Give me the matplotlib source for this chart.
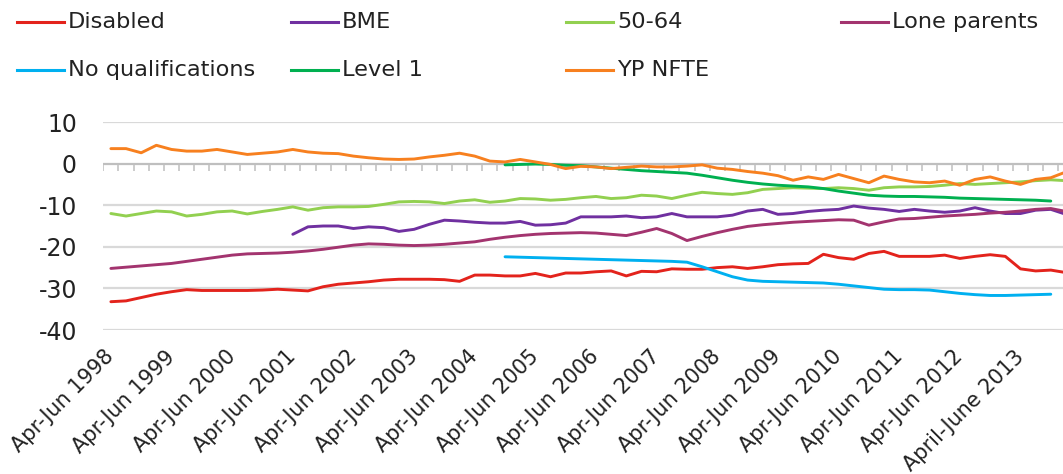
import numpy as np
import matplotlib
matplotlib.use("Agg")
import matplotlib.pyplot as plt
from matplotlib.lines import Line2D

NaN = np.nan

# Quarterly categories, Apr-Jun 1998 onwards (64 quarters)
quarter_names = ["Apr-Jun", "Jul-Sep", "Oct-Dec", "Jan-Mar"]
n_quarters = 64
categories = [f"{quarter_names[i % 4]} {1998 + (i + 1) // 4}" for i in range(n_quarters)]

tick_labels = ["Apr-Jun 1998", "Apr-Jun 1999", "Apr-Jun 2000", "Apr-Jun 2001",
               "Apr-Jun 2002", "Apr-Jun 2003", "Apr-Jun 2004", "Apr-Jun 2005",
               "Apr-Jun 2006", "Apr-Jun 2007", "Apr-Jun 2008", "Apr-Jun 2009",
               "Apr-Jun 2010", "Apr-Jun 2011", "Apr-Jun 2012", "April-June 2013"]

disabled = [-33.2, -33.0, -32.2, -31.4, -30.8, -30.3, -30.5, -30.5, -30.5, -30.5,
            -30.4, -30.2, -30.4, -30.6, -29.6, -29.0, -28.7, -28.4, -28.0, -27.8,
            -27.8, -27.8, -27.9, -28.3, -26.8, -26.8, -27.0, -27.0, -26.4, -27.2,
            -26.3, -26.3, -26.0, -25.8, -27.0, -25.9, -26.0, -25.3, -25.4, -25.4,
            -25.0, -24.8, -25.2, -24.8, -24.3, -24.1, -24.0, -21.8, -22.6, -23.0,
            -21.6, -21.1, -22.3, -22.3, -22.3, -22.0, -22.8, -22.3, -21.9, -22.3,
            -25.3, -25.8, -25.6, -26.2]

bme = [NaN] * 12 + [
    -17.0, -15.2, -15.0, -15.0, -15.6, -15.2, -15.4, -16.3, -15.8, -14.6,
    -13.6, -13.8, -14.1, -14.3, -14.3, -13.9, -14.8, -14.7, -14.3, -12.8,
    -12.8, -12.8, -12.6, -13.0, -12.8, -12.0, -12.8, -12.8, -12.8, -12.4,
    -11.4, -11.0, -12.2, -12.0, -11.5, -11.2, -11.0, -10.2, -10.7, -11.0,
    -11.5, -11.0, -11.4, -11.7, -11.4, -10.6, -11.4, -12.0, -12.0, -11.2,
    -11.0, -12.2]

age_50_64 = [-12.0, -12.6, -12.0, -11.4, -11.6, -12.6, -12.2, -11.6, -11.4, -12.1,
             -11.5, -11.0, -10.4, -11.2, -10.6, -10.4, -10.4, -10.3, -9.8, -9.2,
             -9.1, -9.2, -9.6, -9.0, -8.7, -9.3, -9.0, -8.4, -8.5, -8.8,
             -8.6, -8.2, -7.9, -8.4, -8.2, -7.6, -7.8, -8.4, -7.6, -6.9,
             -7.2, -7.4, -7.0, -6.2, -6.0, -5.8, -5.9, -6.0, -5.8, -6.0,
             -6.4, -5.8, -5.6, -5.6, -5.5, -5.2, -4.8, -5.0, -4.8, -4.6,
             -4.4, -4.1, -3.9, -4.1]

lone_parents = [-25.2, -24.9, -24.6, -24.3, -24.0, -23.5, -23.0, -22.5, -22.0, -21.7,
                -21.6, -21.5, -21.3, -21.0, -20.6, -20.1, -19.6, -19.3, -19.4, -19.6,
                -19.7, -19.6, -19.4, -19.1, -18.8, -18.2, -17.7, -17.3, -17.0, -16.8,
                -16.7, -16.6, -16.7, -17.0, -17.3, -16.5, -15.6, -16.8, -18.5, -17.5,
                -16.6, -15.8, -15.1, -14.7, -14.4, -14.1, -13.9, -13.7, -13.5, -13.6,
                -14.8, -14.0, -13.3, -13.2, -12.9, -12.6, -12.4, -12.2, -11.9, -11.7,
                -11.4, -11.0, -10.8, -11.5]

no_qualifications = [NaN] * 26 + [
    -22.4, -22.5, -22.6, -22.7, -22.8, -22.9, -23.0, -23.1, -23.2, -23.3,
    -23.4, -23.5, -23.7, -24.8, -26.0, -27.2, -28.0, -28.3, -28.4, -28.5,
    -28.6, -28.7, -29.0, -29.4, -29.8, -30.2, -30.3, -30.3, -30.4, -30.8,
    -31.2, -31.5, -31.7, -31.7, -31.6, -31.5, -31.4, NaN]

level_1 = [NaN] * 26 + [
    -0.3, -0.2, -0.1, -0.2, -0.4, -0.5, -0.8, -1.1, -1.4, -1.7,
    -1.9, -2.1, -2.3, -2.8, -3.4, -4.0, -4.5, -4.9, -5.2, -5.4,
    -5.6, -6.0, -6.6, -7.1, -7.6, -7.8, -7.9, -7.9, -8.0, -8.1,
    -8.3, -8.4, -8.5, -8.6, -8.7, -8.8, -9.0, NaN]

yp_nfte = [3.6, 3.6, 2.6, 4.4, 3.4, 3.0, 3.0, 3.4, 2.8, 2.2,
           2.5, 2.8, 3.4, 2.8, 2.5, 2.4, 1.8, 1.4, 1.1, 1.0,
           1.1, 1.6, 2.0, 2.5, 1.8, 0.6, 0.4, 1.0, 0.4, -0.2,
           -1.2, -0.65, -0.8, -1.2, -0.9, -0.6, -0.8, -0.8, -0.6, -0.3,
           -1.1, -1.4, -1.9, -2.3, -2.9, -4.0, -3.2, -3.8, -2.6, -3.6,
           -4.6, -3.0, -3.8, -4.4, -4.6, -4.2, -5.2, -3.8, -3.2, -4.2,
           -5.0, -3.8, -3.4, -2.0]

series_names = ["Disabled", "BME", "50-64", "Lone parents",
                "No qualifications", "Level 1", "YP NFTE"]
series_values = [disabled, bme, age_50_64, lone_parents,
                 no_qualifications, level_1, yp_nfte]
series_colors = ["#e3231c", "#7030a0", "#92d050", "#a3346f",
                 "#00b0f0", "#00b050", "#f7801f"]

W, H = 1063, 474
fig = plt.figure(figsize=(W / 100, H / 100), dpi=100)
fig.patch.set_facecolor("white")

# plot area in pixel terms
left_px, right_px, top_px, bottom_px = 103.3, 1063, 122, 330
ax = fig.add_axes([left_px / W, 1 - bottom_px / H,
                   (right_px - left_px) / W, (bottom_px - top_px) / H])

x = np.arange(n_quarters)
for name, vals, col in zip(series_names, series_values, series_colors):
    ax.plot(x, np.array(vals, dtype=float), color=col, lw=2.1,
            solid_joinstyle="round", solid_capstyle="round", zorder=3)

step = 15.16
ax.set_xlim(-0.5, -0.5 + (right_px - left_px) / step)
ax.set_ylim(-40, 10)

# horizontal gridlines
for yv in [10, -10, -20, -30, -40]:
    ax.axhline(yv, color="#d9d9d9", lw=1.6, zorder=1)

# category axis through zero, with short tick marks at category boundaries
ax.axhline(0, color="#bfbfbf", lw=1.6, zorder=2)
tick_len = 7 / ((bottom_px - top_px) / 50)
ax.vlines(np.arange(n_quarters + 1) - 0.5, -tick_len, 0,
          colors="#bfbfbf", lw=1.1, zorder=2)

for s in ax.spines.values():
    s.set_visible(False)

ax.set_yticks([10, 0, -10, -20, -30, -40])
ax.set_yticklabels(["10", "0", "-10", "-20", "-30", "-40"])
ax.tick_params(axis="y", length=0, pad=19, labelsize=17, labelcolor="#222222")

ax.set_xticks(np.arange(0, 61, 4))
ax.set_xticklabels(tick_labels, rotation=45, ha="right",
                   rotation_mode="anchor", va="center")
ax.tick_params(axis="x", length=0, pad=17, labelsize=15, labelcolor="#222222")

# legend laid out in a 4-column grid
col_x = [17, 291, 566, 841]
row_y = [22, 70]
for k, (name, col) in enumerate(zip(series_names, series_colors)):
    r, c = divmod(k, 4)
    x0 = col_x[c]
    y0 = 1 - row_y[r] / H
    fig.add_artist(Line2D([x0 / W, (x0 + 47) / W], [y0, y0], color=col, lw=2.2,
                          transform=fig.transFigure))
    fig.text((x0 + 51) / W, y0, name, fontsize=16.2, color="#222222",
             va="center", ha="left")

fig.savefig("out.png", dpi=100, facecolor="white")
